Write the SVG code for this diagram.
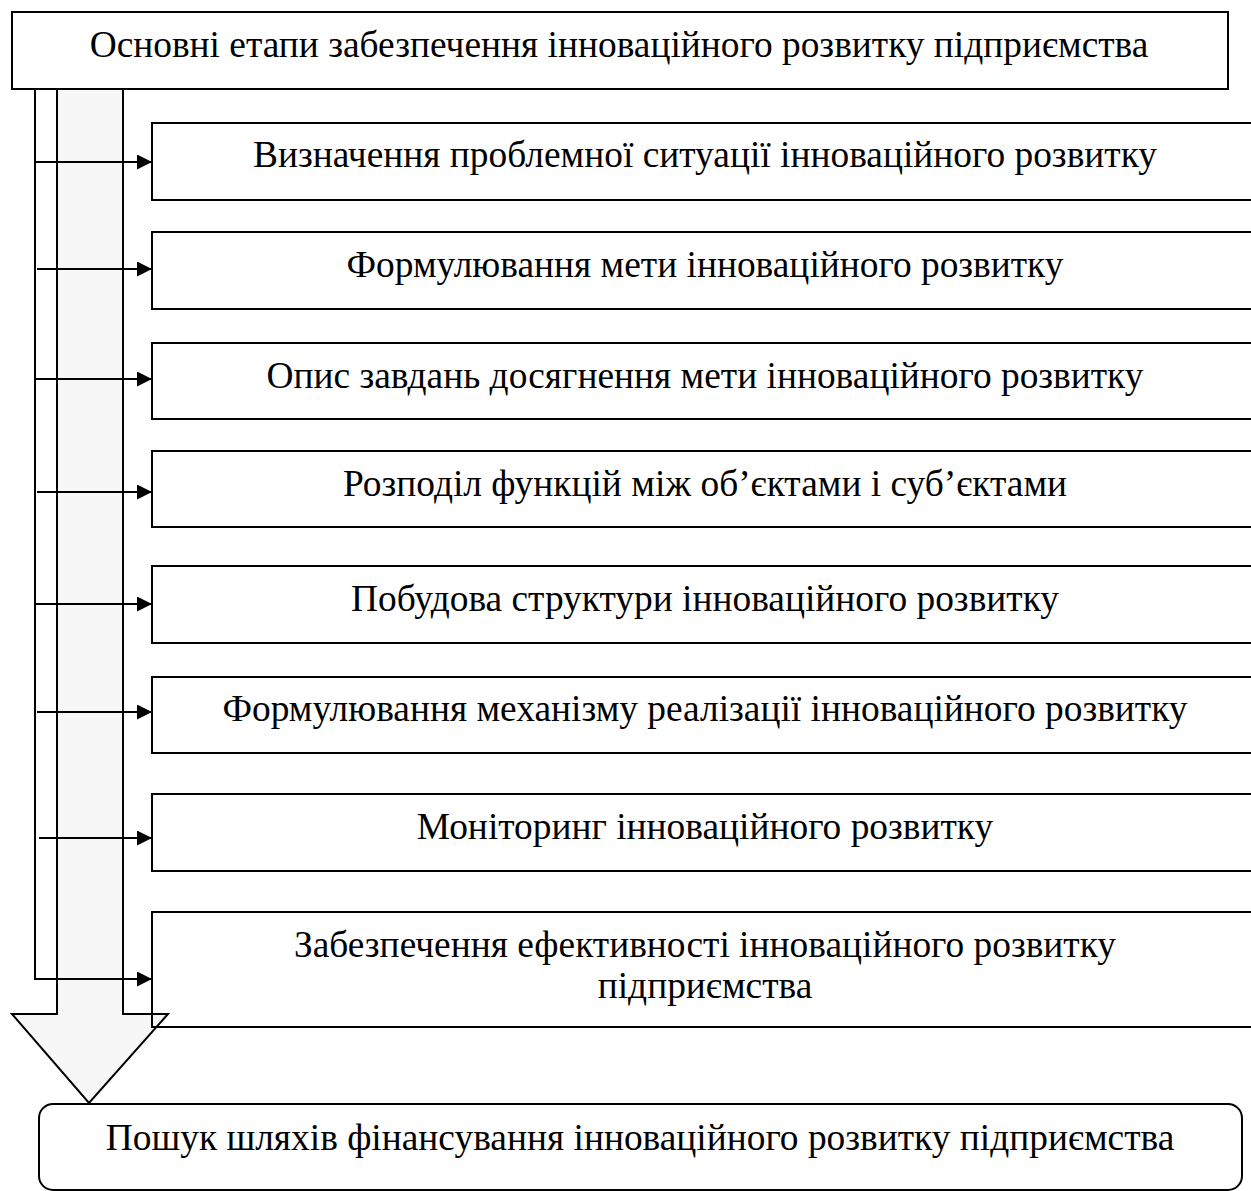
<svg xmlns="http://www.w3.org/2000/svg" width="1251" height="1191" viewBox="0 0 1251 1191">
<defs>
<style>
.box{fill:none;stroke:#000;stroke-width:2}
.lbl{font-family:"Liberation Serif","Times New Roman",serif;font-size:37.4px;fill:#000;text-anchor:middle}
.con{fill:none;stroke:#000;stroke-width:2}
</style>
<marker id="ah" markerUnits="userSpaceOnUse" markerWidth="16" markerHeight="16" refX="15" refY="7.5" orient="auto">
<path d="M0,0 L15,7.5 L0,15 Z" fill="#000"/>
</marker>
</defs>
<rect x="0" y="0" width="1251" height="1191" fill="#fff"/>
<g id="flow-arrow">
<path d="M57,89 V1014 H12 L89,1103 L168,1014 H123 V89" fill="#f7f7f7" stroke="#000" stroke-width="2" stroke-linejoin="miter"/>
</g>
<g id="top">
<rect class="box" x="12" y="12" width="1216" height="77" fill="#fff"/>
<text class="lbl" x="619" y="57">Основні етапи забезпечення інноваційного розвитку підприємства</text>
</g>
<g id="step1">
<rect class="box" x="152" y="123" width="1106" height="77"/>
<text class="lbl" x="705" y="167">Визначення проблемної ситуації інноваційного розвитку</text>
</g>
<g id="step2">
<rect class="box" x="152" y="232" width="1106" height="77"/>
<text class="lbl" x="705" y="277">Формулювання мети інноваційного розвитку</text>
</g>
<g id="step3">
<rect class="box" x="152" y="343" width="1106" height="76"/>
<text class="lbl" x="705" y="388">Опис завдань досягнення мети інноваційного розвитку</text>
</g>
<g id="step4">
<rect class="box" x="152" y="451" width="1106" height="76"/>
<text class="lbl" x="705" y="496">Розподіл функцій між об’єктами і суб’єктами</text>
</g>
<g id="step5">
<rect class="box" x="152" y="566" width="1106" height="77"/>
<text class="lbl" x="705" y="611">Побудова структури інноваційного розвитку</text>
</g>
<g id="step6">
<rect class="box" x="152" y="677" width="1106" height="76"/>
<text class="lbl" x="705" y="721">Формулювання механізму реалізації інноваційного розвитку</text>
</g>
<g id="step7">
<rect class="box" x="152" y="794" width="1106" height="77"/>
<text class="lbl" x="705" y="839">Моніторинг інноваційного розвитку</text>
</g>
<g id="step8">
<rect class="box" x="152" y="912" width="1106" height="115"/>
<text class="lbl" x="705" y="957">Забезпечення ефективності інноваційного розвитку</text>
<text class="lbl" x="705" y="998">підприємства</text>
</g>
<g id="result">
<rect class="box" x="39" y="1104" width="1203" height="86" rx="14" ry="14"/>
<text class="lbl" x="640" y="1150">Пошук шляхів фінансування інноваційного розвитку підприємства</text>
</g>
<g id="connectors">
<path class="con" d="M35,89 V979 H137"/>
<line class="con" x1="35" y1="162" x2="152" y2="162" marker-end="url(#ah)"/>
<line class="con" x1="37" y1="269" x2="152" y2="269" marker-end="url(#ah)"/>
<line class="con" x1="35" y1="379" x2="152" y2="379" marker-end="url(#ah)"/>
<line class="con" x1="37" y1="492" x2="152" y2="492" marker-end="url(#ah)"/>
<line class="con" x1="35" y1="604" x2="152" y2="604" marker-end="url(#ah)"/>
<line class="con" x1="37" y1="712" x2="152" y2="712" marker-end="url(#ah)"/>
<line class="con" x1="39" y1="838" x2="152" y2="838" marker-end="url(#ah)"/>
<line class="con" x1="35" y1="979" x2="152" y2="979" marker-end="url(#ah)"/>
</g>
</svg>
